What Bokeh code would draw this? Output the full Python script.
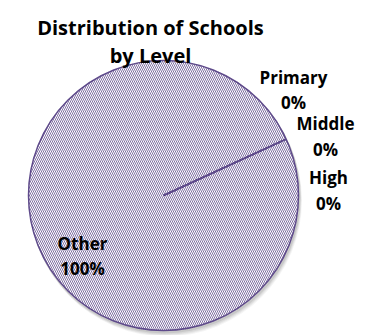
import math
from bokeh.plotting import figure
from bokeh.models import Range1d, ColumnDataSource
from bokeh.embed import file_html
from bokeh.resources import INLINE
from bokeh.core.properties import value

categories = ["Primary", "Middle", "High", "Other"]
values = [0, 0, 0, 100]
pct_labels = ["0%", "0%", "0%", "100%"]
title_lines = ["Distribution of Schools", "by Level"]

W, H = 379, 335
p = figure(width=W, height=H, output_backend="svg", toolbar_location=None,
           x_range=Range1d(0, W), y_range=Range1d(0, H),
           min_border=0)
p.axis.visible = False
p.grid.visible = False
p.outline_line_color = None
p.background_fill_color = "white"

PURPLE = "#5F4B8B"
cx, cy, r = 163, 335 - 195, 135
first_angle = math.radians(90 - 65.3)
total = sum(values)
starts, ends = [], []
a = first_angle
for v in values:
    starts.append(a)
    a = a - 2 * math.pi * v / total
    ends.append(a)

# soft shadow
for off, al in [(5, 0.04), (4, 0.05), (3, 0.06), (2, 0.08)]:
    p.scatter(x=[cx + off * 0.5], y=[cy - off], size=2 * r + 2, marker="circle",
              fill_color="black", fill_alpha=al, line_color=None)

# pie body (single full slice: Other = 100%)
p.scatter(x=[cx], y=[cy], size=2 * r, marker="circle", fill_color="white",
          line_color=PURPLE, line_width=1.5, hatch_pattern="\\",
          hatch_color=PURPLE, hatch_scale=4, hatch_weight=0.8)

# slice boundaries from the data
src = ColumnDataSource(dict(cat=categories, val=values, start=starts, end=ends))
p.ray(x=cx, y=cy, length=r, angle="start", source=src,
      line_color=PURPLE, line_width=1.5)

tsrc = ColumnDataSource(dict(x=[150, 150], y=[335 - 27, 335 - 55], t=title_lines))
p.text(x="x", y="y", text="t", source=tsrc, text_font=value("Open Sans"),
       text_font_style="bold", text_font_size="20px", text_align="center",
       text_baseline="alphabetic", text_color="black")

lx = [293, 325, 328, 82]
name_base = [77, 123, 177, 243]
pct_base = [102, 149, 203, 268]
lab_src = ColumnDataSource(dict(
    x=lx + lx, y=[335 - y for y in name_base] + [335 - y for y in pct_base],
    t=categories + pct_labels))
p.text(x="x", y="y", text="t", source=lab_src, text_font=value("Open Sans"),
       text_font_style="bold", text_font_size="17px", text_align="center",
       text_baseline="alphabetic", text_color="black")

open("out.html", "w").write(file_html(p, INLINE))
